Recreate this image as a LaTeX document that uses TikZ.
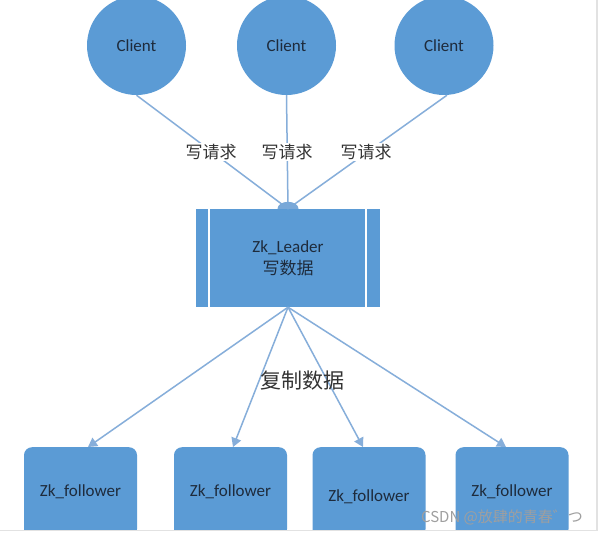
\documentclass[tikz,border=0pt]{standalone}
\usepackage{fontspec}
\setmainfont{Carlito}
\newfontfamily\cjk{Noto Sans CJK SC}
\usetikzlibrary{arrows.meta}
\definecolor{nodeblue}{HTML}{5B9BD5}
\definecolor{linkblue}{HTML}{86AEDA}
\definecolor{inktext}{HTML}{1E2B3C}
\definecolor{labeltext}{HTML}{333333}
\definecolor{framegray}{HTML}{E2E2E2}
\tikzset{
  client/.style={circle, fill=nodeblue, minimum size=99pt, inner sep=0pt,
    font=\fontsize{17}{20}\selectfont, text=inktext},
  leaderbox/.style={rectangle, fill=nodeblue, minimum width=184pt, minimum height=98pt,
    inner sep=0pt, align=center, font=\fontsize{17}{22}\selectfont, text=inktext},
  follower/.style={rectangle, rounded corners=8pt, fill=nodeblue, minimum width=113pt,
    minimum height=90pt, inner sep=0pt, anchor=north, text height=13pt, text depth=4pt,
    font=\fontsize{17}{20}\selectfont, text=inktext},
  link/.style={draw=linkblue, line width=1.5pt},
  reqlabel/.style={fill=white, inner sep=1.5pt, text=labeltext,
    font=\cjk\fontsize{17}{20}\selectfont},
  tip/.style={-{Triangle[length=9pt,width=10pt]}, color=linkblue}
}
\begin{document}
\begin{tikzpicture}[x=1pt,y=-1pt]
\useasboundingbox (0,0) rectangle (603,535);
\fill[white] (0,0) rectangle (603,535);
\begin{scope}
\clip (0,0) rectangle (603,530);
% clients
\node[client] (c1) at (136.5,45.5) {Client};
\node[client] (c2) at (286.5,45.5) {Client};
\node[client] (c3) at (444,45.5) {Client};
% leader
\node[leaderbox] (leader) at (288,258) {Zk\_Leader\\{\cjk 写数据}};
\draw[white, line width=1.5pt] ([xshift=13pt]leader.north west) -- ([xshift=13pt]leader.south west);
\draw[white, line width=1.5pt] ([xshift=-14pt]leader.north east) -- ([xshift=-14pt]leader.south east);
% write requests
\draw[link] (c1.south) -- (leader.north);
\draw[link] (c2.south) -- (leader.north);
\draw[link] ([xshift=3pt]c3.south) -- (leader.north);
\fill[linkblue!70!nodeblue] ([xshift=-10.5pt]leader.north) arc[start angle=180, end angle=360, x radius=10.5, y radius=7] -- cycle;
\node[reqlabel] (r1) at (211,152) {写请求};
\node[reqlabel] (r2) at (287,152) {写请求};
\node[reqlabel] (r3) at (366,152) {写请求};
% followers
\node[follower] (f1) at (80.5,447) {Zk\_follower};
\node[follower] (f2) at (230.5,447) {Zk\_follower};
\node[follower, text height=23pt] (f3) at (369,447) {Zk\_follower};
\node[follower] (f4) at (512,447) {Zk\_follower};
% replication
\draw[link, tip] (leader.south) -- ([xshift=7.5pt]f1.north);
\draw[link, tip] (leader.south) -- ([xshift=2.5pt]f2.north);
\draw[link, tip] (leader.south) -- ([xshift=-6pt]f3.north);
\draw[link, tip] (leader.south) -- ([xshift=-6pt]f4.north);
\node[text=labeltext, font=\cjk\fontsize{21}{24}\selectfont, inner sep=0pt] (copy) at (302,381) {复制数据};
\node[text=gray!75, font=\cjk\fontsize{15}{18}\selectfont, inner sep=0pt] (mark) at (502,517) {CSDN @放肆的青春゛つ};
\end{scope}
\draw[framegray, line width=1.5pt] (0,530.5) -- (597,530.5) -- (597,0);
\end{tikzpicture}
\end{document}
